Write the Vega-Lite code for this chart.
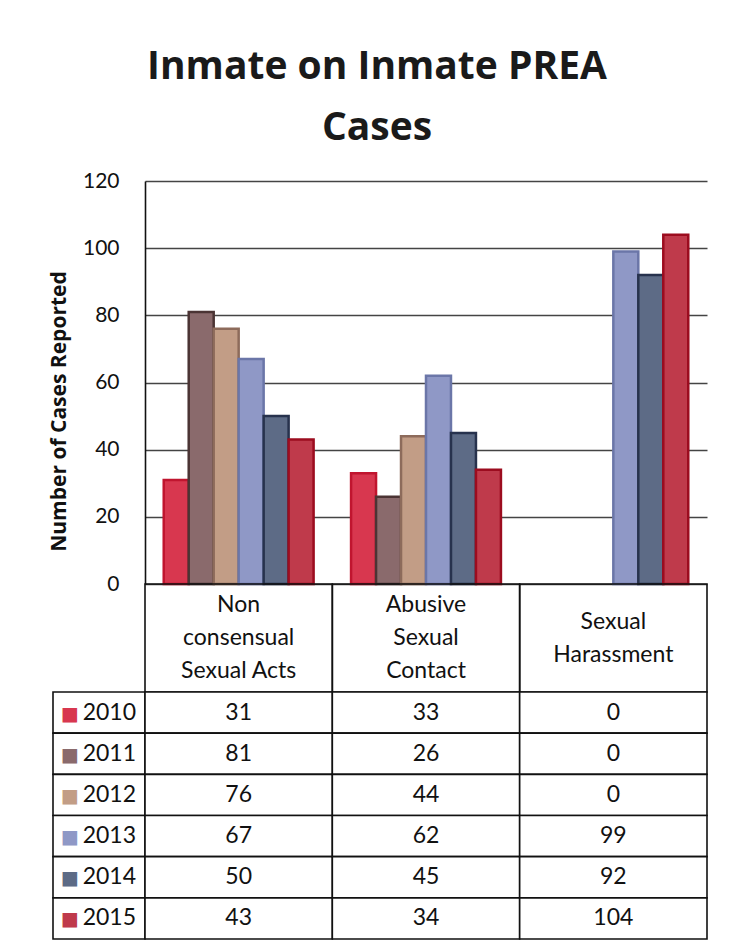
{
  "$schema": "https://vega.github.io/schema/vega-lite/v6.json",
  "background": "white",
  "padding": {"left": 48, "top": 48, "right": 10, "bottom": 10},
  "config": {"view": {"stroke": null}, "font": "Lato"},
  "datasets": {
    "cases": [
      {"category": "Non consensual Sexual Acts", "year": "2010", "count": 31},
      {"category": "Non consensual Sexual Acts", "year": "2011", "count": 81},
      {"category": "Non consensual Sexual Acts", "year": "2012", "count": 76},
      {"category": "Non consensual Sexual Acts", "year": "2013", "count": 67},
      {"category": "Non consensual Sexual Acts", "year": "2014", "count": 50},
      {"category": "Non consensual Sexual Acts", "year": "2015", "count": 43},
      {"category": "Abusive Sexual Contact", "year": "2010", "count": 33},
      {"category": "Abusive Sexual Contact", "year": "2011", "count": 26},
      {"category": "Abusive Sexual Contact", "year": "2012", "count": 44},
      {"category": "Abusive Sexual Contact", "year": "2013", "count": 62},
      {"category": "Abusive Sexual Contact", "year": "2014", "count": 45},
      {"category": "Abusive Sexual Contact", "year": "2015", "count": 34},
      {"category": "Sexual Harassment", "year": "2010", "count": 0},
      {"category": "Sexual Harassment", "year": "2011", "count": 0},
      {"category": "Sexual Harassment", "year": "2012", "count": 0},
      {"category": "Sexual Harassment", "year": "2013", "count": 99},
      {"category": "Sexual Harassment", "year": "2014", "count": 92},
      {"category": "Sexual Harassment", "year": "2015", "count": 104}
    ]
  },
  "data": {"name": "cases"},
  "columns": 2,
  "bounds": "flush",
  "spacing": 0,
  "concat": [
    {
      "width": 92, "height": 403,
      "data": {"values": []},
      "mark": {"type": "text"},
      "encoding": {"text": {"value": ""}}
    },
    {
      "width": 562, "height": 403,
      "title": {"text": ["Inmate on Inmate PREA", "Cases"], "fontSize": 39, "font": "Open Sans", "fontWeight": "bold", "color": "#1a1a1a", "lineHeight": 61, "anchor": "middle", "dx": -49, "offset": 22},
      "mark": {"type": "bar"},
      "encoding": {
        "x": {"field": "category", "type": "nominal",
          "sort": ["Non consensual Sexual Acts", "Abusive Sexual Contact", "Sexual Harassment"],
          "scale": {"paddingInner": 0.2, "paddingOuter": 0.1},
          "axis": {"title": null, "ticks": false, "domain": false, "labelAngle": 0, "labelBaseline": "middle", "labelAlign": "center",
            "labelPadding": {"condition": {"test": "datum.value == 'Sexual Harassment'", "value": 37}, "value": 20},
            "labelFontSize": 23, "labelLineHeight": 33, "labelColor": "#111", "labelLimit": 0, "labelOverlap": false,
            "labelExpr": "datum.label == 'Non consensual Sexual Acts' ? ['Non', 'consensual', 'Sexual Acts'] : datum.label == 'Abusive Sexual Contact' ? ['Abusive', 'Sexual', 'Contact'] : ['Sexual', 'Harassment']"}},
        "xOffset": {"field": "year", "type": "nominal", "scale": {"paddingInner": 0}},
        "y": {"field": "count", "type": "quantitative", "scale": {"domain": [0, 120]},
          "axis": {"title": "Number of Cases Reported", "titleFont": "Open Sans", "titleFontSize": 21, "titleFontWeight": "bold", "titleColor": "#111", "titlePadding": 13, "titleY": 230,
            "values": [0, 20, 40, 60, 80, 100, 120], "ticks": false, "labelPadding": 26, "labelFontSize": 21, "labelColor": "#111",
            "grid": true, "gridColor": "#444", "gridWidth": 1.6, "domainColor": "#111", "domainWidth": 1.6}},
        "fill": {"field": "year", "type": "nominal", "legend": null,
          "scale": {"domain": ["2010", "2011", "2012", "2013", "2014", "2015"], "range": ["#d8374f", "#8a6a6c", "#c29d86", "#8f98c6", "#5d6b86", "#bf3a4b"]}},
        "stroke": {"field": "year", "type": "nominal", "legend": null,
          "scale": {"domain": ["2010", "2011", "2012", "2013", "2014", "2015"], "range": ["#c0152f", "#4b3434", "#8d6b5b", "#6b76a8", "#27324d", "#9c0c1f"]}},
        "strokeWidth": {"condition": {"test": "datum.count == 0", "value": 0}, "value": 2.5}
      }
    },
    {
      "width": 92, "height": 108,
      "data": {"values": []},
      "mark": {"type": "text"},
      "encoding": {"text": {"value": ""}}
    },
    {
      "width": 562, "height": 108,
      "transform": [{"filter": "datum.year == '2010'"}],
      "mark": {"type": "rect", "filled": false, "stroke": "#111", "strokeWidth": 1.6},
      "encoding": {
        "x": {"field": "category", "type": "nominal", "sort": ["Non consensual Sexual Acts", "Abusive Sexual Contact", "Sexual Harassment"], "axis": null, "scale": {"paddingInner": 0, "paddingOuter": 0}}
      }
    },
    {
      "width": 92, "height": 247,
      "transform": [{"filter": "datum.category == 'Abusive Sexual Contact'"}],
      "encoding": {"y": {"field": "year", "type": "nominal", "axis": null, "scale": {"paddingInner": 0, "paddingOuter": 0}}},
      "layer": [
        {"mark": {"type": "rect", "fill": "white", "stroke": "#111", "strokeWidth": 1.6}},
        {"mark": {"type": "text", "align": "right", "dx": 37, "fontSize": 23, "color": "#111"}, "encoding": {"text": {"field": "year"}}},
        {"mark": {"type": "text", "text": "■", "font": "DejaVu Sans", "fontSize": 19, "dx": -29, "dy": 1},
          "encoding": {"fill": {"field": "year", "type": "nominal", "legend": null,
            "scale": {"domain": ["2010", "2011", "2012", "2013", "2014", "2015"], "range": ["#d8374f", "#8a6a6c", "#c29d86", "#8f98c6", "#5d6b86", "#bf3a4b"]}}}}
      ]
    },
    {
      "width": 562, "height": 247,
      "encoding": {
        "x": {"field": "category", "type": "nominal", "sort": ["Non consensual Sexual Acts", "Abusive Sexual Contact", "Sexual Harassment"], "axis": null, "scale": {"paddingInner": 0, "paddingOuter": 0}},
        "y": {"field": "year", "type": "nominal", "axis": null, "scale": {"paddingInner": 0, "paddingOuter": 0}}
      },
      "layer": [
        {"mark": {"type": "rect", "fill": "white", "stroke": "#111", "strokeWidth": 1.6}},
        {"mark": {"type": "text", "fontSize": 23, "color": "#111"}, "encoding": {"text": {"field": "count", "type": "quantitative"}}}
      ]
    }
  ]
}
